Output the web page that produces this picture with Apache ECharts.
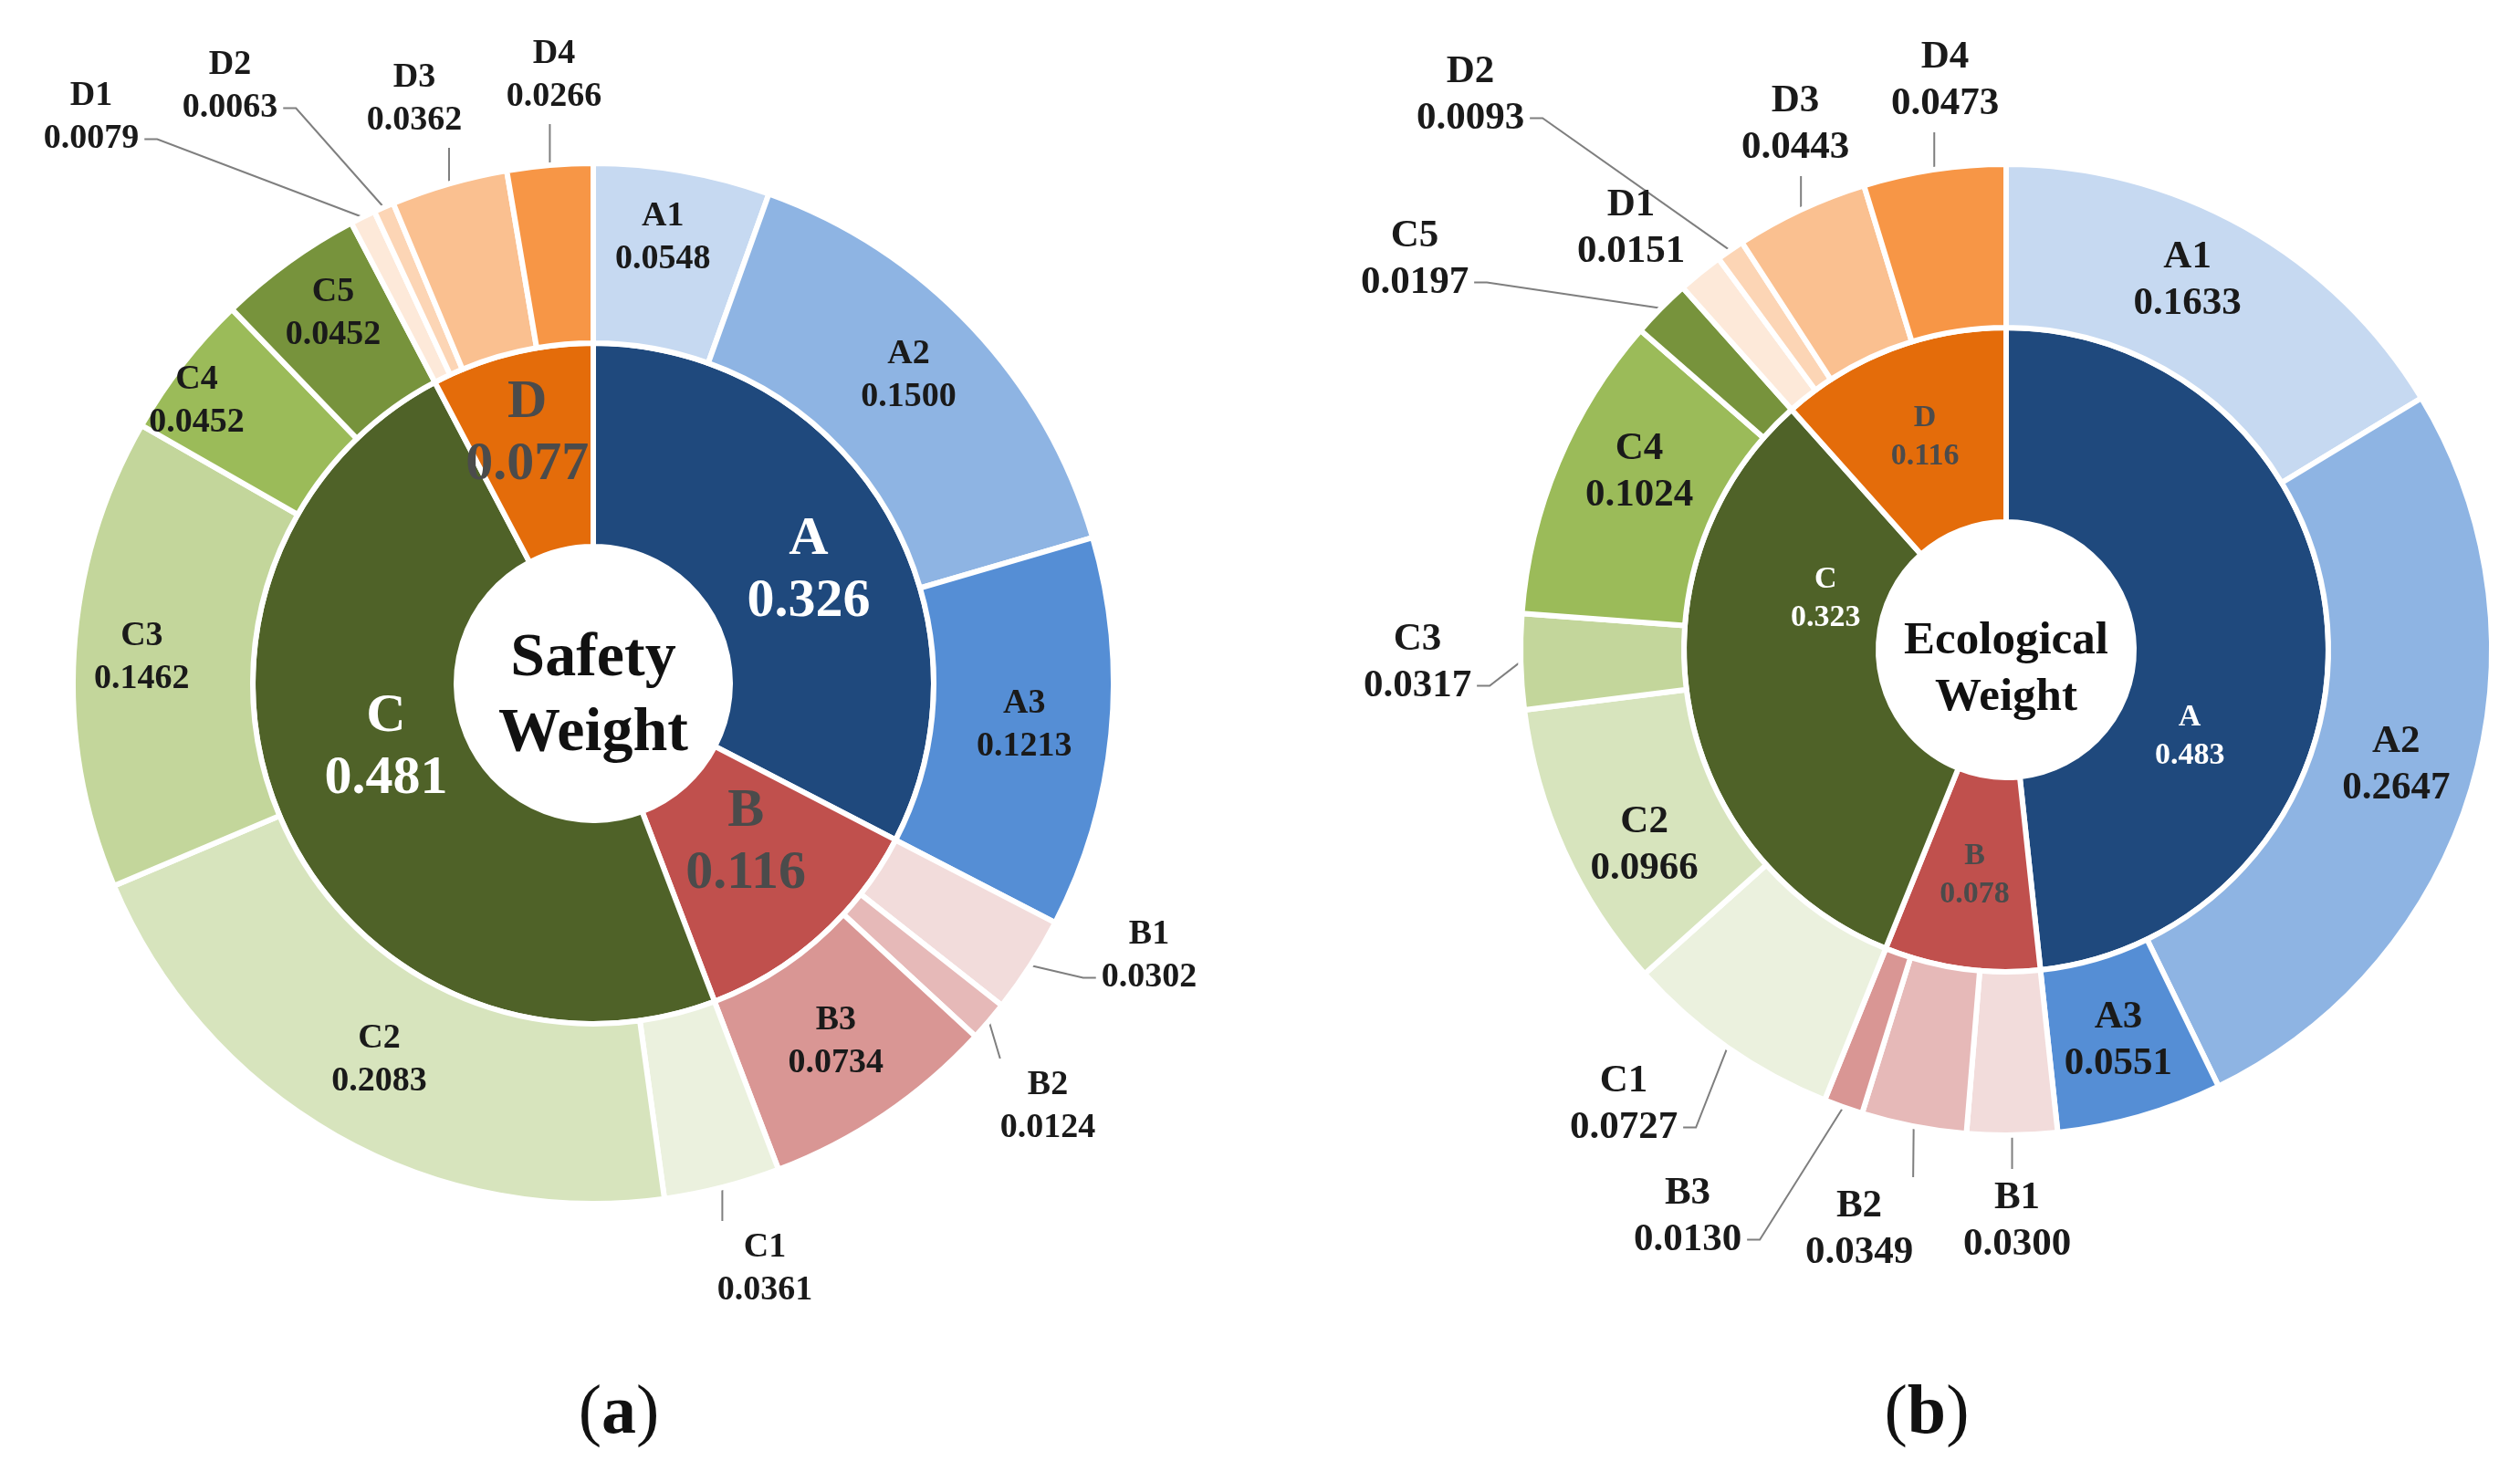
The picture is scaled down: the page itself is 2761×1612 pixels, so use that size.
<!DOCTYPE html>
<html>
<head>
<meta charset="utf-8">
<script src="https://cdn.jsdelivr.net/npm/echarts@6/dist/echarts.min.js"></script>
<style>html,body{margin:0;padding:0;background:#fff}#c{width:2761px;height:1612px}</style>
</head>
<body>
<div id="c"></div>
<script>
// ---------------- data ----------------
const groupNames = ['A', 'B', 'C', 'D'];
const safetyGroup = [0.326, 0.116, 0.481, 0.077];
const ecoGroup = [0.483, 0.078, 0.323, 0.116];
const subNames = ['A1','A2','A3','B1','B2','B3','C1','C2','C3','C4','C5','D1','D2','D3','D4'];
const safetySub = [0.0548, 0.1500, 0.1213, 0.0302, 0.0124, 0.0734, 0.0361, 0.2083, 0.1462, 0.0452, 0.0452, 0.0079, 0.0063, 0.0362, 0.0266];
const ecoSub = [0.1633, 0.2647, 0.0551, 0.0300, 0.0349, 0.0130, 0.0727, 0.0966, 0.0317, 0.1024, 0.0197, 0.0151, 0.0093, 0.0443, 0.0473];
const centerTitles = ['Safety\nWeight', 'Ecological\nWeight'];
const panelLetters = ['a', 'b'];

// ---------------- styles / layout ----------------
const FONT = '"Liberation Serif", "DejaVu Serif", serif';
const groupColors = ['#1f497d', '#c0504d', '#4f6228', '#e46c0a'];
const subColors = ['#c6d9f1', '#8eb4e3', '#558ed5',
                   '#f2dcdb', '#e6b9b8', '#d99694',
                   '#ebf1de', '#d7e4bd', '#c3d69b', '#9bbb59', '#77933c',
                   '#fde9d9', '#fcd5b5', '#fac090', '#f79646'];

const panels = [
  { center: [650, 749], inner: [150, 373], outer: [373, 570],
    groups: safetyGroup, subs: safetySub,
    innerLabelColors: ['#ffffff', '#4b4b4b', '#ffffff', '#4b4b4b'],
    innerSize: 60, innerLH: 68, outerSize: 38, outerLH: 47,
    titleSize: 68, titleLH: 82, titleDy: 14, letterX: 678,
    labelPos: { B1: [1259, 1048], B2: [1148, 1213], C1: [838, 1391], D1: [100, 129], D2: [252, 95], D3: [454, 109], D4: [607, 83] },
    innerShift: { A: [10, 14], B: [-9, -23], C: [14, -38], D: [-9, -17] },
    outerShift: { A1: [-5, -21], A2: [0, -12], C3: [-21, 0], C4: [-60, -18], C5: [-7, -21] },
    noLine: [] },
  { center: [2198, 712], inner: [140, 353], outer: [353, 532],
    groups: ecoGroup, subs: ecoSub,
    innerLabelColors: ['#ffffff', '#4b4b4b', '#ffffff', '#4b4b4b'],
    innerSize: 34, innerLH: 42, outerSize: 43, outerLH: 51,
    titleSize: 51, titleLH: 62, titleDy: 22, letterX: 2111,
    labelPos: { B1: [2210, 1338], B2: [2037, 1347], B3: [1849, 1333], C1: [1779, 1210], C3: [1553, 726], C5: [1550, 284], D1: [1787, 250], D2: [1611, 104], D3: [1967, 136], D4: [2131, 88] },
    innerShift: { A: [-48, 109], C: [48, -99] },
    outerShift: { A1: [-20, -16], C2: [9, 30], C4: [9, -23] },
    noLine: ['D1'] }
];

function makeInnerLayout(panel) {
  return function (params) {
    const s = panel.innerShift[groupNames[params.dataIndex]];
    return s ? { dx: s[0], dy: s[1] } : {};
  };
}

function makeOuterLayout(panel) {
  return function (params) {
    const name = subNames[params.dataIndex];
    const p = panel.labelPos[name];
    if (!p) {
      const s = panel.outerShift[name];
      return s ? { dx: s[0], dy: s[1] } : {};
    }
    const res = { x: p[0], y: p[1], align: 'center', verticalAlign: 'middle' };
    const pts = params.labelLinePoints;
    if (pts && panel.noLine.indexOf(name) < 0) {
      const p0 = pts[0];
      const w = params.labelRect.width, h = params.labelRect.height, g = 6;
      const l = p[0] - w / 2 - g, r = p[0] + w / 2 + g, t = p[1] - h / 2 - g, b = p[1] + h / 2 + g;
      const dxOut = Math.max(l - p0[0], p0[0] - r, 0);
      const dyOut = Math.max(t - p0[1], p0[1] - b, 0);
      if (dxOut >= dyOut) {
        const fromLeft = p0[0] < l;
        const ex = fromLeft ? l : r;
        const ey = p[1] + h / 4;
        res.labelLinePoints = [p0, [ex + (fromLeft ? -14 : 14), ey], [ex, ey]];
      } else {
        const ex = Math.min(Math.max(p0[0], l + g), r - g);
        const ey = p0[1] < t ? t : b;
        res.labelLinePoints = [p0, [(p0[0] + ex) / 2, (p0[1] + ey) / 2], [ex, ey]];
      }
    }
    return res;
  };
}

const series = [];
const graphics = [];
panels.forEach(function (panel, k) {
  series.push({
    type: 'pie', name: 'group' + k,
    center: panel.center, radius: panel.inner,
    startAngle: 90, clockwise: true, avoidLabelOverlap: false,
    silent: true, animation: false,
    itemStyle: { borderColor: '#ffffff', borderWidth: 6 },
    label: {
      position: 'inside', fontFamily: FONT,
      formatter: function (p) { return '{n|' + p.name + '}\n{v|' + p.value.toFixed(3) + '}'; }
    },
    labelLine: { show: false },
    labelLayout: makeInnerLayout(panel),
    data: groupNames.map(function (n, i) {
      return {
        name: n, value: panel.groups[i], itemStyle: { color: groupColors[i] },
        label: { rich: {
          n: { fontFamily: FONT, fontWeight: 'bold', fontSize: panel.innerSize, lineHeight: panel.innerLH, color: panel.innerLabelColors[i] },
          v: { fontFamily: FONT, fontWeight: 'bold', fontSize: panel.innerSize, lineHeight: panel.innerLH, color: panel.innerLabelColors[i] }
        } }
      };
    })
  });
  series.push({
    type: 'pie', name: 'sub' + k,
    center: panel.center, radius: panel.outer,
    startAngle: 90, clockwise: true, avoidLabelOverlap: false,
    minShowLabelAngle: 0,
    silent: true, animation: false,
    itemStyle: { borderColor: '#ffffff', borderWidth: 6 },
    label: {
      fontFamily: FONT, fontWeight: 'bold', fontSize: panel.outerSize, lineHeight: panel.outerLH,
      color: '#1a1a1a', align: 'center',
      formatter: function (p) { return p.name + '\n' + p.value.toFixed(4); }
    },
    labelLine: { show: true, length: 10, length2: 10, lineStyle: { color: '#7f7f7f', width: 2 } },
    labelLayout: makeOuterLayout(panel),
    data: subNames.map(function (n, i) {
      const outside = panel.labelPos[n] !== undefined;
      return {
        name: n, value: panel.subs[i], itemStyle: { color: subColors[i] },
        label: { position: outside ? 'outside' : 'inside' },
        labelLine: { show: outside && panel.noLine.indexOf(n) < 0 }
      };
    })
  });
  graphics.push({
    type: 'text', x: panel.center[0], y: panel.center[1] + panel.titleDy, silent: true,
    style: { text: centerTitles[k], align: 'center', verticalAlign: 'middle',
      fontFamily: FONT, fontWeight: 'bold', fontSize: panel.titleSize, lineHeight: panel.titleLH, fill: '#111111' }
  });
  graphics.push({
    type: 'text', x: panel.letterX, y: 1550, silent: true,
    style: { text: '{p|(}{b|' + panelLetters[k] + '}{p|)}', align: 'center', verticalAlign: 'middle',
      rich: { p: { fontFamily: FONT, fontSize: 76, fill: '#111111' }, b: { fontFamily: FONT, fontWeight: 'bold', fontSize: 76, fill: '#111111' } } }
  });
});

const chart = echarts.init(document.getElementById('c'));
chart.setOption({ backgroundColor: '#ffffff', animation: false, series: series, graphic: graphics });
</script>
</body>
</html>
